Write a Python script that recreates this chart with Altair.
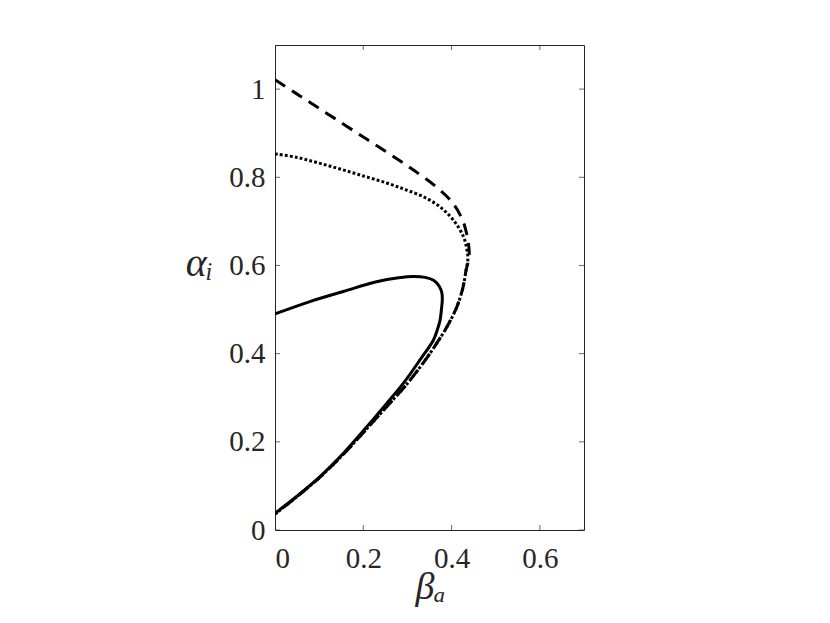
import altair as alt
import pandas as pd

# --- data ---
solid_x = [0.0, 0.079, 0.155, 0.230, 0.280, 0.313, 0.340, 0.360, 0.372, 0.378, 0.379,
           0.377, 0.374, 0.368, 0.359, 0.330, 0.291, 0.253, 0.208, 0.155, 0.102, 0.049, 0.0]
solid_y = [0.490, 0.518, 0.541, 0.563, 0.572, 0.575, 0.573, 0.566, 0.553, 0.538, 0.522,
           0.500, 0.476, 0.455, 0.431, 0.388, 0.333, 0.287, 0.234, 0.174, 0.121, 0.076, 0.038]

lower_x = [0.433, 0.426, 0.412, 0.389, 0.364, 0.338, 0.298, 0.257, 0.210, 0.156, 0.102, 0.049, 0.0]
lower_y = [0.590, 0.551, 0.506, 0.460, 0.420, 0.382, 0.330, 0.284, 0.232, 0.173, 0.120, 0.075, 0.036]

dashed_x = [0.0, 0.045, 0.091, 0.136, 0.185, 0.230, 0.276, 0.317, 0.362, 0.400, 0.425, 0.436, 0.440, 0.438] + lower_x
dashed_y = [1.021, 0.992, 0.962, 0.933, 0.901, 0.872, 0.842, 0.814, 0.781, 0.745, 0.703, 0.663, 0.630, 0.610] + lower_y

dotted_x = [0.0, 0.050, 0.100, 0.150, 0.200, 0.253, 0.298, 0.344, 0.381, 0.410, 0.427, 0.434, 0.437] + lower_x
dotted_y = [0.853, 0.845, 0.832, 0.818, 0.803, 0.787, 0.771, 0.752, 0.727, 0.695, 0.665, 0.640, 0.615] + lower_y

x_ticks = [0, 0.2, 0.4, 0.6]
y_ticks = [0, 0.2, 0.4, 0.6, 0.8, 1.0]
x_max = 0.7
y_max = 1.1

rows = []
for name, xs, ys in [("solid", solid_x, solid_y), ("dashed", dashed_x, dashed_y), ("dotted", dotted_x, dotted_y)]:
    for i, (a, b) in enumerate(zip(xs, ys)):
        rows.append({"series": name, "idx": i, "x": a, "y": b})
df = pd.DataFrame(rows)

INK = "#262626"
FONT = "Liberation Serif"

xscale = alt.Scale(domain=[0, x_max], nice=False, zero=False)
yscale = alt.Scale(domain=[0, y_max], nice=False, zero=False)

xaxis = alt.Axis(values=x_ticks, format=".1~f", domain=False, ticks=False, tickSize=0, grid=False,
                 labelFont=FONT, labelFontSize=29, labelColor=INK, labelPadding=14,
                 title="βₐ", titleFont=FONT, titleFontSize=38, titleFontStyle="italic",
                 titleFontWeight="normal", titleColor=INK, titleX=155, titleY=68,
                 titleAlign="center", titleBaseline="alphabetic")
yaxis = alt.Axis(values=y_ticks, format=".1~f", domain=False, ticks=False, tickSize=0, grid=False,
                 labelFont=FONT, labelFontSize=29, labelColor=INK, labelPadding=10,
                 title="αᵢ", titleFont=FONT, titleFontSize=40, titleFontStyle="italic",
                 titleFontWeight="normal", titleColor=INK, titleAngle=0, titleX=-76, titleY=230,
                 titleAlign="center", titleBaseline="alphabetic")

base = alt.Chart(df)

def curve(name, dash):
    kw = dict(color="black", strokeWidth=3, interpolate="catmull-rom", clip=True)
    if dash:
        kw["strokeDash"] = dash
        kw["strokeCap"] = "butt"
    return base.transform_filter(alt.datum.series == name).mark_line(**kw).encode(
        x=alt.X("x:Q", scale=xscale, axis=xaxis),
        y=alt.Y("y:Q", scale=yscale, axis=yaxis),
        order="idx:Q",
    )

solid = curve("solid", None)
dashed = curve("dashed", [12, 8])
dotted = curve("dotted", [2.8, 2.2])

xt = pd.DataFrame({"v": x_ticks})
yt = pd.DataFrame({"v": y_ticks})

tick_bottom = alt.Chart(xt).mark_tick(orient="vertical", size=10, thickness=1, color=INK, clip=True).encode(
    x=alt.X("v:Q", scale=xscale), y=alt.datum(0))
tick_top = alt.Chart(xt).mark_tick(orient="vertical", size=10, thickness=1, color=INK, clip=True).encode(
    x=alt.X("v:Q", scale=xscale), y=alt.datum(y_max))
tick_left = alt.Chart(yt).mark_tick(orient="horizontal", size=10, thickness=1, color=INK, clip=True).encode(
    y=alt.Y("v:Q", scale=yscale), x=alt.datum(0))
tick_right = alt.Chart(yt).mark_tick(orient="horizontal", size=10, thickness=1, color=INK, clip=True).encode(
    y=alt.Y("v:Q", scale=yscale), x=alt.datum(x_max))

chart = alt.layer(solid, dashed, dotted, tick_bottom, tick_top, tick_left, tick_right).properties(
    width=309, height=485,
    autosize=alt.AutoSizeParams(type="none"),
    padding={"left": 267, "top": 37, "right": 220, "bottom": 90},
    background="white",
).configure_view(stroke=INK, strokeWidth=1)

chart.save("out.html", embed_options={"renderer": "svg", "actions": False})
